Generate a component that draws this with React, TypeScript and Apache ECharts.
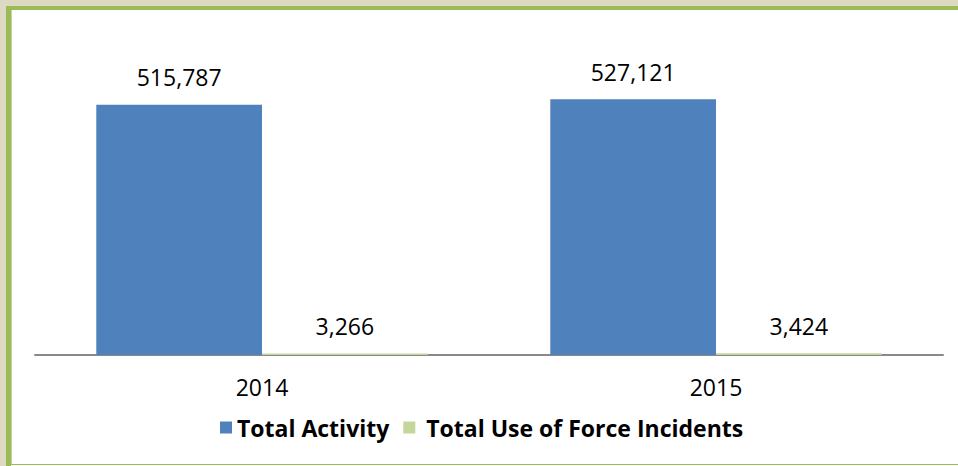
import React, { useEffect, useRef } from "react";
import * as echarts from "echarts";

const categories = ["2014", "2015"];
const totalActivity = [515787, 527121];
const totalUseOfForce = [3266, 3424];
const seriesNames = ["Total Activity", "Total Use of Force Incidents"];

export default function App() {
  const ref = useRef<HTMLDivElement>(null);
  useEffect(() => {
    if (!ref.current) return;
    const chart = echarts.init(ref.current, null, { renderer: "svg" });
    const fmt = (p: any) => Number(p.value).toLocaleString("en-US");
    const labelStyle = {
      show: true,
      position: "top" as const,
      distance: 16,
      color: "#000",
      fontSize: 23,
      fontFamily: "Open Sans",
      formatter: fmt,
    };
    const legendText = { fontSize: 23, fontWeight: "bold", color: "#000", fontFamily: "Open Sans" };
    chart.setOption({
      animation: false,
      backgroundColor: "#DDD9C3",
      graphic: [
        { type: "rect", shape: { x: 6, y: 6, width: 960, height: 470 }, style: { fill: "#9BBB59" }, z: -10 },
        { type: "rect", shape: { x: 11, y: 10, width: 960, height: 454 }, style: { fill: "#C3D69B" }, z: -9 },
        { type: "rect", shape: { x: 12, y: 10, width: 960, height: 454 }, style: { fill: "#FFFFFF" }, z: -8 },
        { type: "rect", shape: { x: 11, y: 465, width: 960, height: 2 }, style: { fill: "#FFFFFF" }, z: -8 },
      ],
      grid: { left: 35, right: 15, top: 64, bottom: 111, containLabel: false },
      legend: {
        left: 215,
        top: 411,
        icon: "rect",
        itemWidth: 12,
        itemHeight: 12,
        itemGap: 14,
        textStyle: legendText,
        data: [
          { name: seriesNames[0] },
          { name: seriesNames[1], textStyle: { ...legendText, padding: [0, 0, 0, 6] } },
        ],
      },
      xAxis: {
        type: "category",
        data: categories,
        axisLine: { lineStyle: { color: "#898989", width: 2 } },
        axisTick: { show: false },
        axisLabel: { color: "#000", fontSize: 23, fontFamily: "Open Sans", margin: 20 },
      },
      yAxis: {
        type: "value",
        min: 0,
        max: 600000,
        show: false,
        splitLine: { show: false },
      },
      series: [
        {
          name: seriesNames[0],
          type: "bar",
          data: totalActivity,
          barGap: "0%",
          barCategoryGap: "27%",
          itemStyle: { color: "#4F81BD" },
          label: labelStyle,
        },
        {
          name: seriesNames[1],
          type: "bar",
          data: totalUseOfForce,
          itemStyle: { color: "#C3D69B" },
          label: labelStyle,
        },
      ],
    });
    return () => chart.dispose();
  }, []);
  return (
    <div
      ref={ref}
      style={{ position: "fixed", left: 0, top: 0, width: 958, height: 466 }}
    />
  );
}
